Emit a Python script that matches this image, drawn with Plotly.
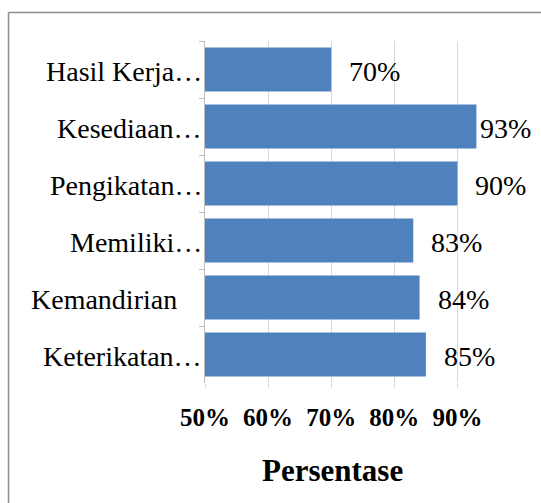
import plotly.graph_objects as go

# ---- data ----
categories = ["Hasil Kerja…", "Kesediaan…", "Pengikatan…", "Memiliki…", "Kemandirian", "Keterikatan…"]
values = [0.70, 0.93, 0.90, 0.83, 0.84, 0.85]
value_labels = ["70%", "93%", "90%", "83%", "84%", "85%"]
x_tick_vals = [0.5, 0.6, 0.7, 0.8, 0.9]
x_tick_text = ["50%", "60%", "70%", "80%", "90%"]
axis_title = "Persentase"

# ---- layout geometry (page pixels) ----
W, H = 541, 503
L, R, T, B = 205, 489, 41, 383
FONT = "Liberation Serif, Times New Roman, serif"

def px_x(p):
    return (p - L) / (R - L)

def px_y(p):
    return (B - p) / (B - T)

fig = go.Figure()
fig.add_trace(go.Bar(
    x=values, y=categories, orientation="h",
    marker=dict(color="#4F81BD", line=dict(width=0)),
    hoverinfo="skip",
))

annotations = []
# data labels
label_gap = [16, 2, 16, 16, 16, 16]
for c, v, t, g in zip(categories, values, value_labels, label_gap):
    annotations.append(dict(x=v, y=c, xref="x", yref="y", text=t, showarrow=False,
                            xanchor="left", yanchor="middle", xshift=g, yshift=-2,
                            font=dict(family=FONT, size=28, color="black")))
# category labels
cat_shift = [-1, -1, -1, -1, -26, -1]
for c, s in zip(categories, cat_shift):
    annotations.append(dict(x=0, y=c, xref="paper", yref="y", text=c, showarrow=False,
                            xanchor="right", yanchor="middle", xshift=s, yshift=-2,
                            font=dict(family=FONT, size=28, color="black")))
# axis title
annotations.append(dict(x=px_x(332), y=px_y(470), xref="paper", yref="paper", text="<b>%s</b>" % axis_title,
                        showarrow=False, xanchor="center", yanchor="middle",
                        font=dict(family=FONT, size=31, color="black")))

fig.update_layout(
    width=W, height=H,
    margin=dict(l=L, r=W - R, t=T, b=H - B, autoexpand=False),
    paper_bgcolor="white", plot_bgcolor="white",
    bargap=0.23,
    showlegend=False,
    annotations=annotations,
    xaxis=dict(range=[0.5, 0.95], tickvals=x_tick_vals, ticktext=x_tick_text,
               showgrid=True, gridcolor="#d9d9d9", gridwidth=1, zeroline=False,
               showline=False, ticks="outside", ticklen=4, tickcolor="#d9d9d9",
               ticklabelstandoff=8,
               tickfont=dict(family=FONT, size=25, color="black", weight="bold")),
    yaxis=dict(autorange="reversed", showticklabels=False, showgrid=False, zeroline=False,
               showline=True, linecolor="#bfbfbf", linewidth=1,
               ticks="outside", ticklen=5, tickcolor="#bfbfbf", tickson="boundaries"),
    shapes=[
        dict(type="line", xref="paper", yref="paper", x0=px_x(8.5), x1=px_x(560), y0=px_y(12.5), y1=px_y(12.5),
             line=dict(color="#8c8c8c", width=1.5)),
        dict(type="line", xref="paper", yref="paper", x0=px_x(8.5), x1=px_x(8.5), y0=px_y(12.5), y1=px_y(520),
             line=dict(color="#8c8c8c", width=1.5)),
    ],
)

fig.write_html(
    "out.html",
    config={"displayModeBar": False},
    post_script="document.body.style.margin='0';document.body.style.overflow='hidden';",
)
